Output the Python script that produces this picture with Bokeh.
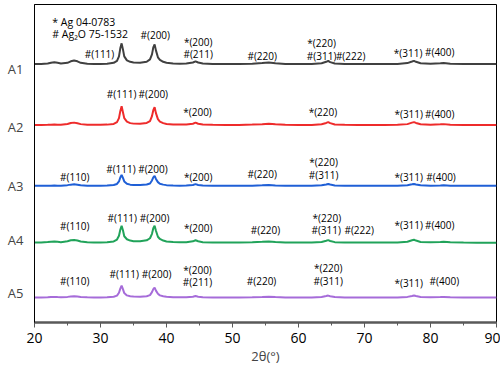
from bokeh.plotting import figure
from bokeh.models import Range1d, SingleIntervalTicker, FixedTicker, ColumnDataSource
from bokeh.core.properties import value
from bokeh.embed import file_html
from bokeh.resources import INLINE

# ---- data ----
two_theta = [20, 21, 22, 22.5, 23, 23.5, 24, 25, 25.5, 26, 26.5, 27, 28, 29, 30, 31, 32,
             32.5, 32.8, 33.0, 33.2, 33.4, 33.6, 34, 34.5, 35, 36, 37,
             37.5, 37.8, 38.0, 38.2, 38.4, 38.7, 39, 39.5, 40, 41, 42, 43,
             44, 44.4, 44.8, 45.5, 47, 49, 51, 53, 54.5, 55.5, 56.5, 58, 60, 62, 63.5,
             64.2, 64.5, 64.8, 65.5, 67, 69, 71, 73, 75,
             76.5, 77.2, 77.5, 77.8, 78.5, 80, 81.5, 82, 83, 85, 87, 90]

A1 = [0.3, 0.3, 0.8, 1.5, 2, 1.5, 0.8, 1.5, 3, 3.8, 3, 1.5, 0.5, 0.3, 0.3, 0.6, 1.5,
      3.5, 8, 16, 21, 15, 8, 4, 2.5, 1.8, 1.5, 2.5,
      5, 10, 17, 20, 14, 7, 4.5, 2.5, 1.5, 0.8, 0.6, 0.8,
      1.8, 3, 1.8, 0.8, 0.4, 0.3, 0.3, 0.6, 1.2, 1.8, 1, 0.4, 0.3, 0.3, 1,
      2.5, 3.5, 2.2, 0.8, 0.4, 0.3, 0.3, 0.3, 0.4,
      1.2, 2.8, 3.5, 2.5, 1, 0.5, 1, 1.2, 0.5, 0.3, 0.2, 0.2]
A2 = [0.2, 0.2, 0.3, 0.4, 0.5, 0.4, 0.4, 1.2, 2.2, 2.5, 1.8, 1, 0.4, 0.3, 0.3, 0.5, 1.2,
      3, 7, 14, 19, 13, 7, 3.5, 2, 1.5, 1.3, 2.2,
      4, 9, 15, 18, 12, 6, 3.5, 2, 1.2, 0.6, 0.5, 0.6,
      1.4, 2.5, 1.4, 0.6, 0.3, 0.2, 0.2, 0.5, 0.9, 1.3, 0.8, 0.3, 0.2, 0.2, 0.8,
      2.2, 3, 2, 0.6, 0.3, 0.2, 0.2, 0.2, 0.3,
      1, 2.5, 3, 2.2, 0.8, 0.4, 0.8, 1, 0.4, 0.2, 0.1, 0.1]
A3 = [0.2, 0.2, 0.3, 0.3, 0.4, 0.3, 0.3, 0.8, 1.3, 1.6, 1.2, 0.7, 0.3, 0.2, 0.2, 0.4, 0.9,
      2, 4.5, 8.5, 11, 8, 4.5, 2.2, 1.3, 1, 0.9, 1.4,
      2.5, 5.5, 8.5, 10, 7, 3.8, 2.2, 1.3, 0.8, 0.4, 0.3, 0.4,
      0.9, 1.8, 1, 0.4, 0.2, 0.2, 0.2, 0.3, 0.6, 0.9, 0.5, 0.2, 0.2, 0.2, 0.6,
      1.5, 2, 1.4, 0.5, 0.2, 0.2, 0.1, 0.1, 0.2,
      0.7, 1.6, 2, 1.5, 0.6, 0.3, 0.5, 0.6, 0.3, 0.1, 0.1, 0.1]
A4 = [0.2, 0.3, 0.8, 1.1, 1.2, 0.9, 0.6, 1.5, 2.5, 2.8, 2.2, 1.2, 0.5, 0.3, 0.3, 0.5, 1.3,
      3.2, 7, 13, 17, 12.5, 6.5, 3.5, 2.2, 1.6, 1.5, 2.4,
      4.5, 9, 14.5, 17, 12, 6, 3.8, 2.2, 1.3, 0.7, 0.5, 0.6,
      1.4, 2.5, 1.5, 0.6, 0.3, 0.3, 0.3, 0.5, 0.9, 1.3, 0.8, 0.3, 0.2, 0.3, 0.8,
      2, 2.6, 1.8, 0.6, 0.3, 0.2, 0.2, 0.2, 0.3,
      1, 2.5, 3, 2.2, 0.8, 0.4, 0.8, 1, 0.4, 0.2, 0.1, 0.1]
A5 = [0.2, 0.2, 0.4, 0.6, 0.7, 0.5, 0.4, 0.7, 1.1, 1.3, 1, 0.6, 0.3, 0.2, 0.2, 0.4, 0.9,
      2, 4.8, 9, 12, 8.5, 4.5, 2.2, 1.3, 1, 0.9, 1.4,
      2.5, 5.5, 8.5, 10, 7, 3.8, 2.2, 1.3, 0.8, 0.4, 0.3, 0.4,
      0.8, 1.5, 0.9, 0.4, 0.2, 0.2, 0.2, 0.3, 0.5, 0.8, 0.5, 0.2, 0.2, 0.2, 0.6,
      1.5, 2, 1.4, 0.5, 0.2, 0.2, 0.1, 0.1, 0.2,
      0.7, 1.6, 2, 1.5, 0.6, 0.3, 0.5, 0.6, 0.3, 0.1, 0.1, 0.1]

sample_names = ["A1", "A2", "A3", "A4", "A5"]
series = [A1, A2, A3, A4, A5]
offsets = [259, 198, 137, 80, 25]          # vertical stacking offset (a.u.)
name_pos = [254, 196, 137, 83, 30]
colors = ["#404040", "#ee2b2b", "#1f5fd6", "#21a35a", "#a66cd9"]

# peak annotations: text, 2theta, y (a.u.)
peak_text = ["#(111)", "#(200)", "*(200)", "#(211)", "#(220)", "*(220)", "#(311)", "#(222)", "*(311)", "#(400)",
             "#(111)", "#(200)", "*(200)", "*(220)", "*(311)", "#(400)",
             "#(110)", "#(111)", "#(200)", "*(200)", "#(220)", "*(220)", "#(311)", "*(311)", "#(400)",
             "#(110)", "#(111)", "#(200)", "*(200)", "#(220)", "*(220)", "#(311)", "#(222)", "*(311)", "#(400)",
             "#(110)", "#(111)", "#(200)", "*(200)", "#(211)", "#(220)", "*(220)", "#(311)", "*(311)", "#(400)"]
peak_x = [29.85, 38.3, 44.8, 44.8, 54.5, 63.5, 63.5, 67.9, 76.6, 81.4,
          33.2, 38.0, 44.7, 63.7, 76.7, 81.4,
          26.1, 33.1, 37.95, 44.8, 54.5, 63.8, 63.8, 76.7, 81.6,
          26.1, 33.3, 38.2, 44.8, 55.0, 64.3, 64.2, 69.2, 76.7, 81.4,
          26.1, 33.6, 38.5, 44.7, 44.7, 54.4, 64.5, 64.5, 76.7, 82.1]
peak_y = [269, 288, 281, 269, 267, 280, 267, 267, 270, 271,
          229, 229, 211, 211, 209, 209,
          146, 154, 154, 146, 149, 161, 148, 146, 146,
          97, 105, 105, 95, 93, 105, 93, 93, 98, 98,
          42, 49, 49, 53, 41, 42, 55, 42, 40, 42]

legend_text = ["* Ag 04-0783", "# Ag\u2082O 75-1532"]
legend_x = [22.7, 22.7]
legend_y = [301, 289]

x_ticks_interval = 10
x_title = "2θ(°)"

# ---- figure ----
p = figure(width=500, height=367, output_backend="svg", toolbar_location=None,
           x_range=Range1d(20, 90), y_range=Range1d(0, 319),
           min_border_left=34, min_border_right=4, min_border_top=4, min_border_bottom=44)
p.background_fill_color = "white"
p.border_fill_color = "white"
p.outline_line_color = "black"
p.outline_line_width = 1
p.xgrid.visible = False
p.ygrid.visible = False

for ys, off, c in zip(series, offsets, colors):
    yy = [v + off for v in ys]
    p.line(two_theta, yy, line_color=c, line_width=2)

src = ColumnDataSource(dict(x=peak_x, y=peak_y, t=peak_text))
p.text(x="x", y="y", text="t", source=src, text_font=value("Open Sans"), text_font_size="10px",
       text_align="center", text_baseline="middle", text_color="black")
src2 = ColumnDataSource(dict(x=legend_x, y=legend_y, t=legend_text))
p.text(x="x", y="y", text="t", source=src2, text_font=value("Open Sans"), text_font_size="10.5px",
       text_align="left", text_baseline="middle", text_color="black")

xa = p.xaxis[0]
xa.ticker = SingleIntervalTicker(interval=x_ticks_interval, num_minor_ticks=2)
xa.axis_line_color = "#595959"
xa.axis_line_width = 2.5
xa.major_tick_line_color = "#595959"
xa.minor_tick_line_color = "#595959"
xa.major_tick_in = 0
xa.major_tick_out = 5
xa.minor_tick_in = 0
xa.minor_tick_out = 3
xa.major_label_text_font = "Open Sans"
xa.major_label_text_font_size = "14px"
xa.major_label_text_color = "black"
xa.major_label_standoff = 5
xa.axis_label = x_title
xa.axis_label_text_font = "Open Sans"
xa.axis_label_text_font_size = "13px"
xa.axis_label_text_font_style = "normal"
xa.axis_label_standoff = 1

ya = p.yaxis[0]
ya.ticker = FixedTicker(ticks=name_pos)
ya.major_label_overrides = {pos: n for pos, n in zip(name_pos, sample_names)}
ya.axis_line_color = "black"
ya.axis_line_width = 1
ya.major_tick_line_color = None
ya.minor_tick_line_color = None
ya.major_label_text_font = "Open Sans"
ya.major_label_text_font_size = "13px"
ya.major_label_standoff = 5

open("out.html", "w").write(file_html(p, INLINE))
